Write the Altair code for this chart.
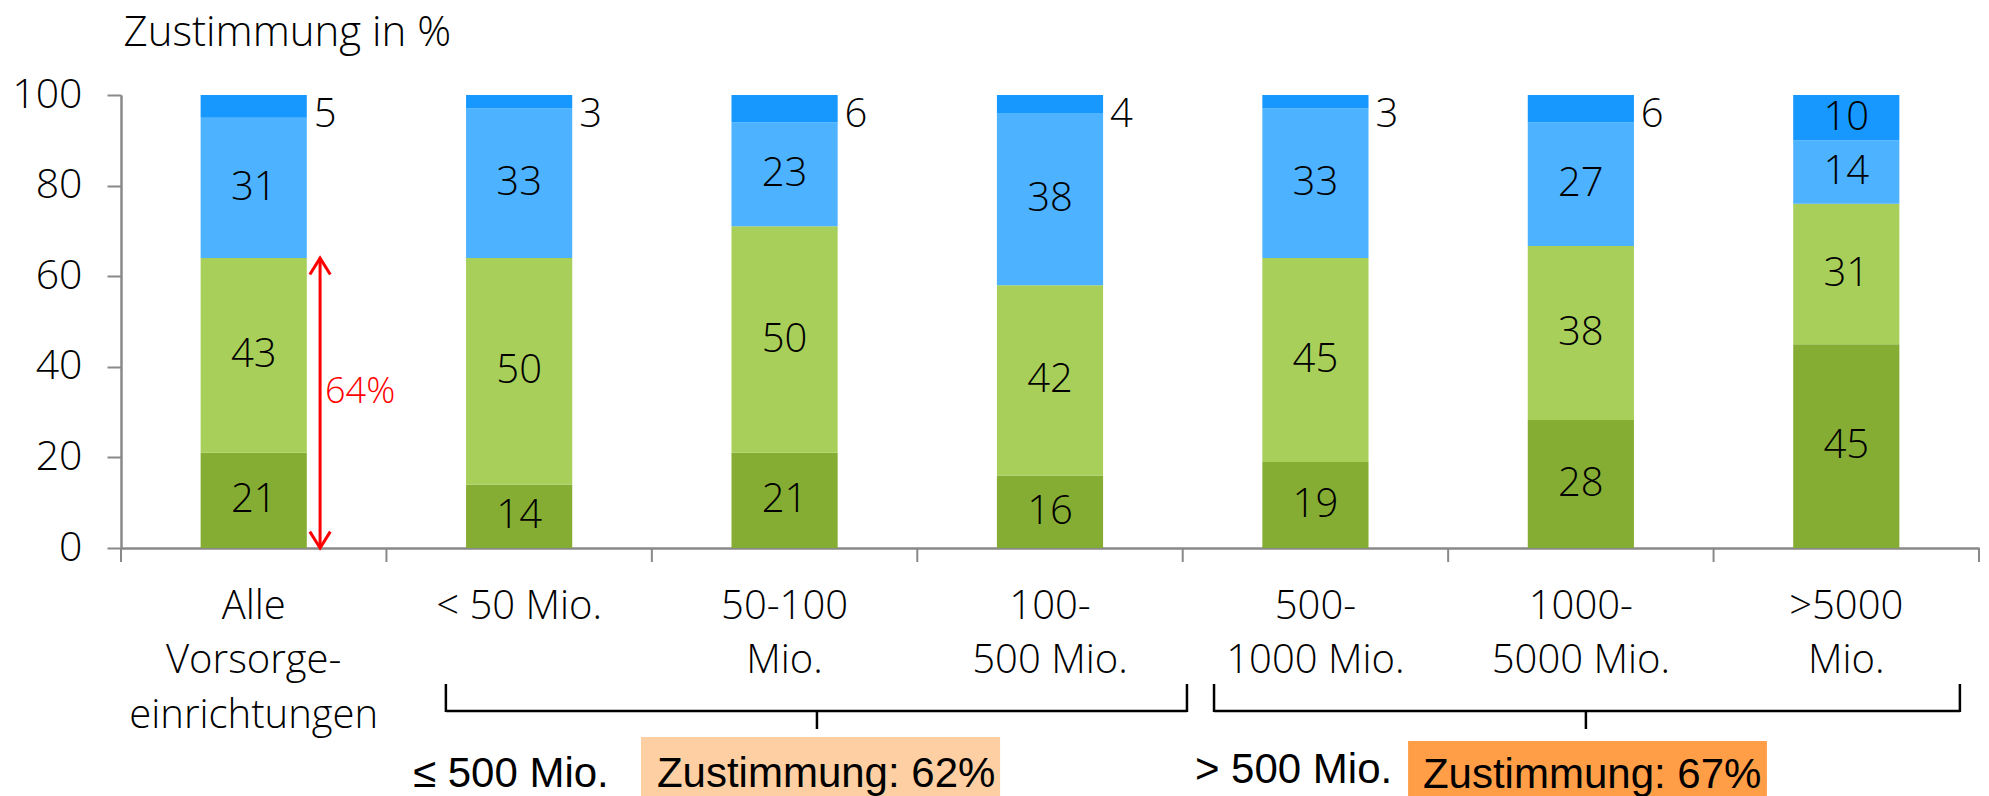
import altair as alt
import pandas as pd

# ---------------- data ----------------
categories = ["Alle\nVorsorge-\neinrichtungen", "< 50 Mio.", "50-100\nMio.", "100-\n500 Mio.",
              "500-\n1000 Mio.", "1000-\n5000 Mio.", ">5000\nMio."]
segments = ["stimme zu", "stimme eher zu", "stimme eher nicht zu", "stimme nicht zu"]
seg_colors = ["#86AD33", "#A8CF5A", "#4DB2FF", "#1698FF"]
zu = [21, 14, 21, 16, 19, 28, 45]
eher_zu = [43, 50, 50, 42, 45, 38, 31]
eher_nicht = [31, 33, 23, 38, 33, 27, 14]
nicht = [5, 3, 6, 4, 3, 6, 10]

y_ticks = [0, 20, 40, 60, 80, 100]
arrow_value = 64                     # Zustimmung aller Vorsorgeeinrichtungen in %
arrow_label = "64%"
group_labels = ["≤ 500 Mio.", "> 500 Mio."]
group_texts = ["Zustimmung: 62%", "Zustimmung: 67%"]
group_colors = ["#FDCFA2", "#FF9E47"]

# ---------------- layout constants ----------------
SEGOE = "Open Sans"
ARIAL = "Liberation Sans"
W, H = 1858, 453
AX = "#898989"

rows = []
for i, c in enumerate(categories):
    for k, (s, vals) in enumerate(zip(segments, [zu, eher_zu, eher_nicht, nicht])):
        rows.append({"cat": c, "seg": s, "order": k, "val": vals[i]})
df = pd.DataFrame(rows)

base = alt.Chart(df).transform_stack(
    stack="val", groupby=["cat"], sort=[alt.SortField("order", order="ascending")],
    offset="normalize", as_=["y0", "y1"]
).transform_calculate(mid="(datum.y0 + datum.y1) / 2")

xenc = alt.X(
    "cat:N", sort=categories,
    scale=alt.Scale(paddingInner=0.6, paddingOuter=0.3),
    axis=alt.Axis(
        title=None, labelAngle=0, labelExpr="split(datum.label, '\\n')",
        labelFont=SEGOE, labelFontSize=40, labelFontWeight=300, labelColor="black",
        labelLineHeight=54.5, labelBaseline="top", labelPadding=38, labelLimit=500,
        ticks=False, domainColor=AX, domainWidth=2.5,
    ),
)
yaxis = alt.Axis(
    values=[v / 100 for v in y_ticks], labelExpr="format(datum.value * 100, 'd')",
    grid=False, labelFont=SEGOE, labelFontSize=41, labelFontWeight=300, labelColor="black",
    labelPadding=25, tickSize=14, tickColor=AX, tickWidth=2, domainColor=AX, domainWidth=2.5,
    title="Zustimmung in %", titleAngle=0, titleAlign="left", titleBaseline="alphabetic",
    titleX=2, titleY=-50, titleFont=SEGOE, titleFontSize=42, titleFontWeight=300,
    titleColor="black",
)
yscale = alt.Scale(domain=[0, 1], nice=False)

bars = base.mark_bar().encode(
    x=xenc, y=alt.Y("y0:Q", scale=yscale, axis=yaxis), y2="y1:Q",
    color=alt.Color("seg:N", scale=alt.Scale(domain=segments, range=seg_colors), legend=None),
)

txt_in = base.transform_filter("datum.order < 3 || datum.val >= 8").mark_text(
    font=SEGOE, fontSize=40, fontWeight=300, color="black", baseline="middle"
).encode(x=alt.X("cat:N", sort=categories), y=alt.Y("mid:Q", axis=yaxis), text="val:Q")

txt_out = base.transform_filter("datum.order == 3 && datum.val < 8").mark_text(
    font=SEGOE, fontSize=40, fontWeight=300, color="black", baseline="top", align="left", xOffset=60
).encode(x=alt.X("cat:N", sort=categories), y=alt.Y("y1:Q", axis=yaxis), text="val:Q")

bar_layer = alt.layer(bars, txt_in, txt_out)

# ---------------- annotations (x in band units 0..7) ----------------
XQ = dict(scale=alt.Scale(domain=[0, 7], nice=False, zero=False), axis=None)

tick_df = pd.DataFrame({"xs": list(range(len(categories) + 1))})
x_ticks = alt.Chart(tick_df).mark_rule(color=AX, strokeWidth=2).encode(
    x=alt.X("xs:Q", **XQ), y=alt.value(H), y2=alt.value(H + 14))

arrow_df = pd.DataFrame({"xs": [0.75], "lo": [0], "hi": [arrow_value / 100],
                         "mid": [arrow_value / 200], "t": [arrow_label]})
arrow_rule = alt.Chart(arrow_df).mark_rule(color="#FF0000", strokeWidth=3).encode(
    x=alt.X("xs:Q", **XQ), y=alt.Y("lo:Q", axis=yaxis), y2="hi:Q")
heads_df = pd.DataFrame({"xs": [0.75, 0.75], "yv": [arrow_value / 100, 0], "dir": ["up", "down"]})
arrow_heads = alt.Chart(heads_df).mark_point(
    filled=False, color="#FF0000", strokeWidth=3, size=420, opacity=1
).encode(
    x=alt.X("xs:Q", **XQ), y=alt.Y("yv:Q", axis=yaxis),
    shape=alt.Shape("dir:N", scale=alt.Scale(domain=["up", "down"],
                                             range=["M-1,1.6L0,0L1,1.6", "M-1,-1.6L0,0L1,-1.6"]),
                    legend=None),
)
arrow_text = alt.Chart(arrow_df).mark_text(
    font=SEGOE, fontSize=36, fontWeight=300, color="#FF0000", align="left", baseline="alphabetic", dx=5
).encode(x=alt.X("xs:Q", **XQ), y=alt.Y("mid:Q", axis=yaxis), text="t:N")

br_df = pd.DataFrame({"x0": [1.224, 4.118], "x1": [4.016, 6.928], "xc": [2.622, 5.519]})
br_kw = dict(color="black", strokeWidth=2.5)
br_h = alt.Chart(br_df).mark_rule(**br_kw).encode(x=alt.X("x0:Q", **XQ), x2="x1:Q", y=alt.value(616))
br_l = alt.Chart(br_df).mark_rule(**br_kw).encode(x=alt.X("x0:Q", **XQ), y=alt.value(589), y2=alt.value(617))
br_r = alt.Chart(br_df).mark_rule(**br_kw).encode(x=alt.X("x1:Q", **XQ), y=alt.value(589), y2=alt.value(617))
br_c = alt.Chart(br_df).mark_rule(**br_kw).encode(x=alt.X("xc:Q", **XQ), y=alt.value(616), y2=alt.value(634))

grp_df = pd.DataFrame({"g": group_labels, "t": group_texts, "col": group_colors,
                       "gx": [1.100, 4.046], "bx0": [1.959, 4.849], "bx1": [3.312, 6.201],
                       "tx": [2.019, 4.905]})
layers = []
for i, (btop, gy, ty) in enumerate([(642, 692, 692), (646, 688, 693)]):
    d = grp_df.iloc[[i]]
    layers.append(alt.Chart(d).mark_rect(color=group_colors[i]).encode(
        x=alt.X("bx0:Q", **XQ), x2="bx1:Q", y=alt.value(btop), y2=alt.value(720)))
    layers.append(alt.Chart(d).mark_text(
        font=ARIAL, fontSize=42, color="black", align="left", baseline="alphabetic"
    ).encode(x=alt.X("tx:Q", **XQ), y=alt.value(ty), text="t:N"))
    layers.append(alt.Chart(d).mark_text(
        font=ARIAL, fontSize=42, color="black", align="left", baseline="alphabetic"
    ).encode(x=alt.X("gx:Q", **XQ), y=alt.value(gy), text="g:N"))

annot = alt.layer(x_ticks, arrow_rule, arrow_heads, arrow_text, br_h, br_l, br_r, br_c, *layers)

chart = alt.layer(bar_layer, annot).resolve_scale(x="independent").properties(
    width=W, height=H,
    autosize=alt.AutoSizeParams(type="none"),
    padding={"left": 113, "top": 87, "right": 2, "bottom": 248},
).configure_view(stroke=None)

chart.save("out.html", embed_options={"renderer": "svg", "actions": False})
